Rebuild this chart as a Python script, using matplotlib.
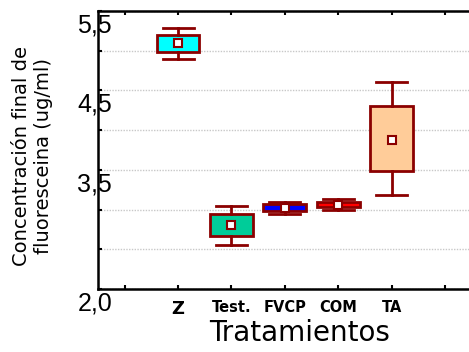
import matplotlib
matplotlib.use("Agg")
import matplotlib.pyplot as plt
import matplotlib.transforms as mtransforms

# Resumen por tratamiento: media, cuartiles y bigotes (ug/ml)
tratamientos = ["Z", "Test.", "FVCP", "COM", "TA"]
medias = [5.10, 2.80, 3.02, 3.06, 3.87]
q1 = [4.99, 2.67, 2.98, 3.03, 3.48]
q3 = [5.20, 2.94, 3.07, 3.10, 4.30]
bigote_inf = [4.90, 2.56, 2.95, 3.00, 3.18]
bigote_sup = [5.28, 3.05, 3.10, 3.135, 4.61]
colores = ["#00FFFF", "#00CC99", "#0000FF", "#FF0000", "#FFCC99"]

yticks = [2.0, 2.5, 3.0, 3.5, 4.0, 4.5, 5.0, 5.5]
ytick_labels = ["2,0", "", "", "3,5", "", "4,5", "", "5,5"]

borde = "#8B0000"

fig = plt.figure(figsize=(4.69, 3.52), dpi=100)
ax = fig.add_axes([98 / 469, 63 / 352, 1 - 98 / 469, 278 / 352])

stats = []
for i, nombre in enumerate(tratamientos):
    stats.append({"label": nombre, "med": medias[i], "mean": medias[i],
                  "q1": q1[i], "q3": q3[i],
                  "whislo": bigote_inf[i], "whishi": bigote_sup[i],
                  "fliers": []})

pos = list(range(1, len(tratamientos) + 1))
bp = ax.bxp(stats, positions=pos, widths=0.8, capwidths=0.58,
            patch_artist=True, showmeans=True, showfliers=False,
            boxprops=dict(edgecolor=borde, linewidth=2),
            whiskerprops=dict(color=borde, linewidth=2),
            capprops=dict(color=borde, linewidth=2),
            medianprops=dict(linewidth=0),
            meanprops=dict(marker="s", markerfacecolor="white",
                           markeredgecolor=borde, markersize=6,
                           markeredgewidth=1.5))
for caja, c in zip(bp["boxes"], colores):
    caja.set_facecolor(c)

ax.set_xlim(-0.5, 6.45)
ax.set_ylim(2.0, 5.5)
ax.set_xticks(range(0, 7))
ax.set_xticklabels(["", "Z", "Test.", "FVCP", "COM", "TA", ""])
for lab in ax.get_xticklabels():
    if lab.get_text() == "Z":
        lab.set_fontsize(13)
    else:
        lab.set_fontsize(10.5)
    lab.set_fontweight("bold")

ax.set_yticks(yticks)
ax.set_yticklabels(ytick_labels, fontsize=18, family="Liberation Sans")
ax.yaxis.grid(True, color="#c8c8c8", linestyle=(0, (1, 1)), linewidth=1)
ax.set_axisbelow(True)

ax.tick_params(axis="both", direction="in", length=3, width=1.5,
               top=True, bottom=True, left=True, right=False)
ax.tick_params(axis="x", pad=8)
ax.tick_params(axis="y", pad=0)

# etiquetas del eje y desplazadas sobre el eje
desplaz = mtransforms.ScaledTranslation(14 / 100, -12 / 100, fig.dpi_scale_trans)
for lab in ax.get_yticklabels():
    lab.set_transform(lab.get_transform() + desplaz)

for lado in ["left", "bottom", "top"]:
    ax.spines[lado].set_linewidth(1.8)
ax.spines["right"].set_visible(False)

fig.text(300 / 469, 1 - 341 / 352, "Tratamientos", fontsize=20,
         ha="center", va="baseline")
fig.text(33 / 469, 1 - 156 / 352,
         "Concentración final de\nfluoresceina (ug/ml)",
         rotation=90, fontsize=14, ha="center", va="center",
         multialignment="center")

fig.savefig("out.png", dpi=100)
